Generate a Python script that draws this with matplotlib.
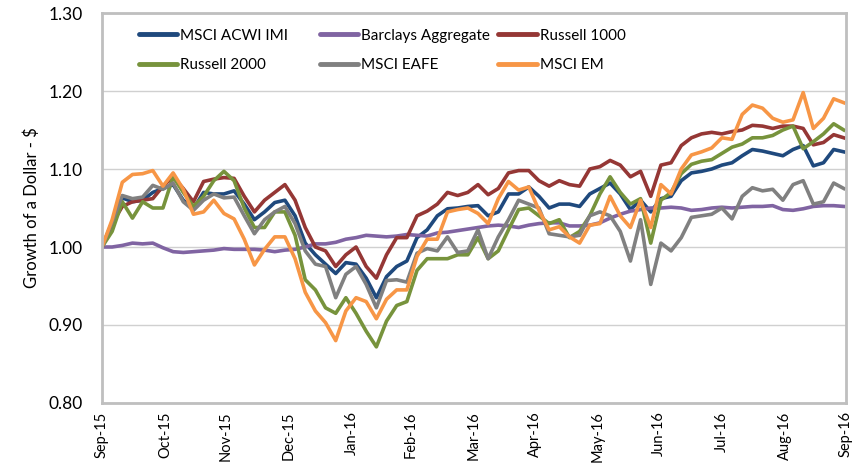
import pandas as pd
import matplotlib.pyplot as plt
import matplotlib.dates as mdates

plt.rcParams['font.family'] = ['Lato', 'DejaVu Sans']

# growth of $1, sampled every 5 days from 30 Sep 2015
dates = pd.date_range('2015-09-30', periods=74, freq='5D')

msci_acwi_imi = [
    1.000, 1.030, 1.063, 1.058, 1.060, 1.070, 1.075, 1.080, 1.060, 1.049,
    1.070, 1.068, 1.068, 1.072, 1.055, 1.035, 1.045, 1.057, 1.060, 1.040,
    1.005, 0.990, 0.978, 0.966, 0.980, 0.978, 0.960, 0.935, 0.962, 0.975,
    0.982, 1.012, 1.022, 1.040, 1.049, 1.050, 1.052, 1.053, 1.040, 1.045,
    1.068, 1.068, 1.077, 1.065, 1.050, 1.055, 1.055, 1.052, 1.068, 1.075,
    1.082, 1.068, 1.048, 1.060, 1.045, 1.062, 1.065, 1.085, 1.095, 1.097,
    1.100, 1.105, 1.108, 1.117, 1.125, 1.123, 1.120, 1.117, 1.125, 1.130,
    1.104, 1.108, 1.125, 1.122,
]
barclays_agg = [
    1.000, 1.000, 1.002, 1.005, 1.004, 1.005, 0.999, 0.994, 0.993, 0.994,
    0.995, 0.996, 0.998, 0.997, 0.997, 0.997, 0.996, 0.994, 0.996, 0.997,
    1.000, 1.004, 1.004, 1.006, 1.010, 1.012, 1.015, 1.014, 1.013, 1.014,
    1.016, 1.015, 1.014, 1.018, 1.019, 1.021, 1.023, 1.025, 1.027, 1.028,
    1.027, 1.025, 1.028, 1.030, 1.031, 1.031, 1.027, 1.027, 1.028, 1.031,
    1.037, 1.042, 1.046, 1.048, 1.050, 1.050, 1.051, 1.050, 1.047, 1.048,
    1.050, 1.051, 1.050, 1.051, 1.052, 1.052, 1.053, 1.048, 1.047, 1.049,
    1.052, 1.053, 1.053, 1.052,
]
russell_1000 = [
    1.000, 1.030, 1.052, 1.058, 1.060, 1.062, 1.078, 1.090, 1.075, 1.058,
    1.084, 1.087, 1.089, 1.088, 1.065, 1.045, 1.060, 1.070, 1.080, 1.060,
    1.025, 1.000, 0.995, 0.975, 0.990, 1.000, 0.975, 0.960, 0.990, 1.012,
    1.012, 1.040, 1.046, 1.055, 1.070, 1.066, 1.070, 1.080, 1.067, 1.075,
    1.095, 1.098, 1.098, 1.085, 1.078, 1.085, 1.080, 1.078, 1.100, 1.103,
    1.111, 1.105, 1.090, 1.097, 1.065, 1.105, 1.108, 1.130, 1.140, 1.145,
    1.147, 1.145, 1.148, 1.150, 1.156, 1.155, 1.152, 1.155, 1.155, 1.152,
    1.131, 1.134, 1.144, 1.140,
]
russell_2000 = [
    1.000, 1.020, 1.058, 1.037, 1.058, 1.050, 1.050, 1.090, 1.070, 1.052,
    1.065, 1.085, 1.097, 1.085, 1.050, 1.025, 1.025, 1.045, 1.045, 1.015,
    0.958, 0.945, 0.922, 0.915, 0.935, 0.915, 0.892, 0.872, 0.905, 0.925,
    0.930, 0.970, 0.985, 0.985, 0.985, 0.990, 0.990, 1.012, 0.985, 0.995,
    1.022, 1.048, 1.050, 1.040, 1.030, 1.035, 1.012, 1.020, 1.040, 1.068,
    1.090, 1.070, 1.055, 1.062, 1.005, 1.060, 1.070, 1.094, 1.106, 1.110,
    1.112, 1.120, 1.128, 1.132, 1.140, 1.140, 1.143, 1.150, 1.155, 1.126,
    1.135, 1.145, 1.158, 1.150,
]
msci_eafe = [
    1.000, 1.032, 1.066, 1.062, 1.064, 1.079, 1.074, 1.082, 1.058, 1.047,
    1.060, 1.068, 1.063, 1.064, 1.040, 1.017, 1.035, 1.045, 1.052, 1.030,
    0.995, 0.978, 0.975, 0.935, 0.965, 0.975, 0.952, 0.922, 0.957, 0.958,
    0.955, 0.992, 0.998, 0.995, 1.013, 0.993, 0.995, 1.022, 0.985, 1.013,
    1.035, 1.060, 1.055, 1.050, 1.017, 1.015, 1.013, 1.015, 1.040, 1.045,
    1.040, 1.020, 0.982, 1.035, 0.952, 1.005, 0.995, 1.012, 1.038, 1.040,
    1.042, 1.050, 1.036, 1.065, 1.076, 1.072, 1.074, 1.060, 1.080, 1.085,
    1.055, 1.058, 1.082, 1.075,
]
msci_em = [
    1.000, 1.035, 1.083, 1.093, 1.094, 1.098, 1.078, 1.095, 1.074, 1.042,
    1.045, 1.060, 1.043, 1.036, 1.010, 0.977, 0.997, 1.013, 1.013, 0.985,
    0.942, 0.918, 0.903, 0.880, 0.918, 0.935, 0.930, 0.908, 0.933, 0.945,
    0.945, 0.988, 1.010, 1.010, 1.045, 1.048, 1.050, 1.043, 1.030, 1.062,
    1.084, 1.073, 1.077, 1.047, 1.022, 1.026, 1.013, 1.005, 1.028, 1.030,
    1.065, 1.040, 1.025, 1.060, 1.025, 1.080, 1.068, 1.100, 1.118, 1.122,
    1.127, 1.140, 1.138, 1.170, 1.182, 1.178, 1.165, 1.160, 1.163, 1.198,
    1.152, 1.165, 1.190, 1.185,
]

series = [
    ("MSCI ACWI IMI", msci_acwi_imi, "#1F497D"),
    ("Barclays Aggregate", barclays_agg, "#8064A2"),
    ("Russell 1000", russell_1000, "#953735"),
    ("Russell 2000", russell_2000, "#77933C"),
    ("MSCI EAFE", msci_eafe, "#808080"),
    ("MSCI EM", msci_em, "#F79646"),
]

fig = plt.figure(figsize=(8.57, 4.73), dpi=100)
ax = fig.add_axes([0.119, 0.148, 0.868, 0.8245])

lines = {}
for name, values, color in series:
    line, = ax.plot(dates, values, color=color, lw=2.6, solid_joinstyle='round')
    lines[name] = line

ax.set_xlim(pd.Timestamp('2015-09-30'), pd.Timestamp('2016-09-30'))
ax.set_ylim(0.80, 1.30)
ax.set_yticks([0.80, 0.90, 1.00, 1.10, 1.20, 1.30])
ax.yaxis.set_major_formatter(plt.FormatStrFormatter('%.2f'))

month_ends = pd.date_range('2015-09-30', '2016-09-30', freq='ME')
ax.set_xticks(month_ends)
ax.xaxis.set_major_formatter(mdates.DateFormatter('%b-%y'))
plt.setp(ax.get_xticklabels(), rotation=90, fontsize=10.5)
plt.setp(ax.get_yticklabels(), fontsize=12.5)
ax.tick_params(axis='both', length=0)
ax.tick_params(axis='y', pad=14)
ax.tick_params(axis='x', pad=6)

ax.grid(axis='y', color='#D0D0D0', lw=1)
ax.set_axisbelow(True)
for side in ['left', 'right', 'top', 'bottom']:
    ax.spines[side].set_color('#BFBFBF')
    ax.spines[side].set_linewidth(2)

ax.set_ylabel("Growth of a Dollar - $", fontsize=12, labelpad=6)

# legend: three columns placed by hand, two entries each
columns = [
    (0.05, ["MSCI ACWI IMI", "Russell 2000"]),
    (0.293, ["Barclays Aggregate", "MSCI EAFE"]),
    (0.533, ["Russell 1000", "MSCI EM"]),
]
for xpos, names in columns:
    leg = ax.legend([lines[n] for n in names], names, loc='upper left',
                    bbox_to_anchor=(xpos, 0.96), frameon=False, fontsize=11,
                    handlelength=2.5, handletextpad=0.2, labelspacing=1.0,
                    borderpad=0, borderaxespad=0)
    for h in leg.get_lines():
        h.set_linewidth(3.5)
        h.set_solid_capstyle('round')
    ax.add_artist(leg)
ax.legend_ = None

fig.savefig('out.png', dpi=100)
